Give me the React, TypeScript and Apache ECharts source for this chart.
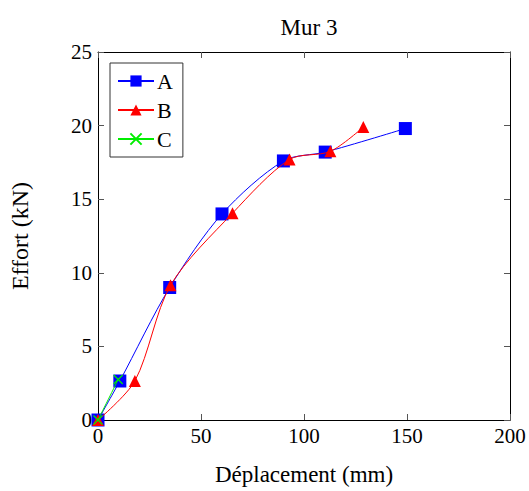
import React, { useEffect, useRef } from "react";
import * as echarts from "echarts";

const titleText = "Mur 3";
const xLabel = "Déplacement (mm)";
const yLabel = "Effort (kN)";

const seriesA: [number, number][] = [
  [0, 0], [10.6, 2.65], [34.8, 9.0], [60.2, 14.0], [90, 17.6], [110.3, 18.2], [149.2, 19.8],
];
const seriesB: [number, number][] = [
  [0, 0], [17.9, 2.65], [35.2, 9.15], [65.3, 14.05], [93, 17.7], [112.8, 18.25], [128.8, 19.9],
];
const seriesC: [number, number][] = [
  [0, 0], [9.8, 2.75],
];

const FONT = "Liberation Serif";
const FS = 21;

export default function App() {
  const ref = useRef<HTMLDivElement>(null);
  useEffect(() => {
    document.body.style.margin = "0";
    if (!ref.current) return;
    const chart = echarts.init(ref.current, null, { renderer: "svg" });
    const axisCommon = {
      axisLine: { show: true, onZero: false, lineStyle: { color: "#000", width: 1 } },
      axisTick: { show: true, inside: true, length: 6, lineStyle: { color: "#555", width: 1 } },
      splitLine: { show: false },
    };
    chart.setOption({
      animation: false,
      backgroundColor: "#fff",
      title: {
        text: titleText,
        left: 304,
        top: 11,
        textAlign: "center",
        textStyle: { fontFamily: FONT, fontSize: 23, fontWeight: "normal", color: "#000" },
      },
      grid: { left: 97, right: 19, top: 52, bottom: 66, containLabel: false },
      legend: {
        orient: "vertical",
        left: 110,
        top: 63,
        padding: [7, 10, 7, 7],
        itemGap: 7,
        itemWidth: 36,
        itemHeight: 14,
        borderColor: "#333",
        borderWidth: 1,
        borderRadius: 0,
        backgroundColor: "#fff",
        textStyle: { fontFamily: FONT, fontSize: 22, color: "#000", padding: [0, 0, 0, -2] },
        data: ["A", "B", "C"],
      },
      xAxis: [
        {
          type: "value",
          min: 0,
          max: 200,
          interval: 50,
          position: "bottom",
          name: xLabel,
          nameLocation: "middle",
          nameGap: 43,
          nameTextStyle: { fontFamily: FONT, fontSize: 23, color: "#000" },
          axisLabel: { fontFamily: FONT, fontSize: FS, color: "#000", margin: 5 },
          ...axisCommon,
        },
        {
          type: "value",
          min: 0,
          max: 200,
          interval: 50,
          position: "top",
          axisLabel: { show: false },
          ...axisCommon,
        },
      ],
      yAxis: [
        {
          type: "value",
          min: 0,
          max: 25,
          interval: 5,
          position: "left",
          name: yLabel,
          nameLocation: "middle",
          nameGap: 66,
          nameRotate: 90,
          nameTextStyle: { fontFamily: FONT, fontSize: 24, color: "#000" },
          axisLabel: { fontFamily: FONT, fontSize: FS, color: "#000", margin: 6 },
          ...axisCommon,
        },
        {
          type: "value",
          min: 0,
          max: 25,
          interval: 5,
          position: "right",
          axisLabel: { show: false },
          ...axisCommon,
        },
      ],
      series: [
        {
          name: "A",
          type: "line",
          data: seriesA,
          smooth: 0.3,
          symbol: "rect",
          symbolSize: 13,
          lineStyle: { color: "#0000ff", width: 1 },
          itemStyle: { color: "#0000ff" },
          z: 2,
        },
        {
          name: "B",
          type: "line",
          data: seriesB,
          smooth: 0.3,
          symbol: "triangle",
          symbolSize: 12,
          lineStyle: { color: "#ff0000", width: 1 },
          itemStyle: { color: "#ff0000" },
          z: 3,
        },
        {
          name: "C",
          type: "line",
          data: seriesC,
          smooth: 0.3,
          symbol: "path://M0,0L10,10M10,0L0,10",
          symbolSize: 9,
          lineStyle: { color: "#00ee00", width: 1 },
          itemStyle: { color: "#00ee00", borderColor: "#00ee00", borderWidth: 1.2 },
          z: 4,
        },
      ],
    });
    return () => chart.dispose();
  }, []);
  return <div ref={ref} style={{ width: 529, height: 491 }} />;
}
